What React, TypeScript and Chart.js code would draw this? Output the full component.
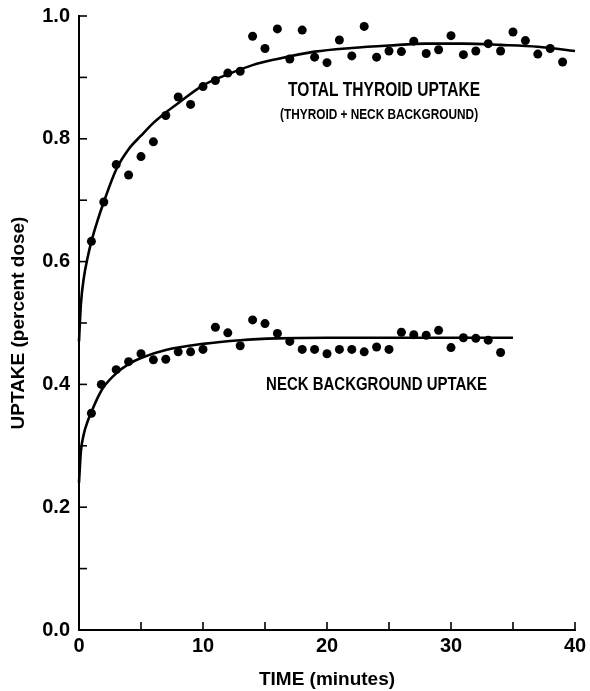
import React, { useEffect, useRef } from 'react';
import { Chart, registerables } from 'chart.js';

Chart.register(...registerables);

// ---- Data ----
const totalMinutes = [1, 2, 3, 4, 5, 6, 7, 8, 9, 10, 11, 12, 13, 14, 15, 16, 17, 18, 19, 20, 21, 22, 23, 24, 25, 26, 27, 28, 29, 30, 31, 32, 33, 34, 35, 36, 37, 38, 39];
const totalUptake = [0.633, 0.697, 0.758, 0.741, 0.771, 0.795, 0.838, 0.868, 0.856, 0.885, 0.895, 0.907, 0.910, 0.967, 0.947, 0.979, 0.930, 0.977, 0.933, 0.924, 0.961, 0.935, 0.983, 0.933, 0.943, 0.942, 0.959, 0.939, 0.945, 0.968, 0.937, 0.943, 0.955, 0.943, 0.974, 0.960, 0.938, 0.947, 0.925];

const neckMinutes = [1, 1.8, 3, 4, 5, 6, 7, 8, 9, 10, 11, 12, 13, 14, 15, 16, 17, 18, 19, 20, 21, 22, 23, 24, 25, 26, 27, 28, 29, 30, 31, 32, 33, 34];
const neckUptake = [0.353, 0.400, 0.424, 0.437, 0.450, 0.440, 0.441, 0.453, 0.453, 0.457, 0.493, 0.484, 0.463, 0.505, 0.499, 0.483, 0.470, 0.457, 0.457, 0.450, 0.457, 0.457, 0.453, 0.461, 0.457, 0.485, 0.481, 0.480, 0.488, 0.460, 0.476, 0.475, 0.472, 0.452];

// fitted curves
const totalFitMinutes = [0, 0.15, 0.4, 0.7, 1, 1.5, 2, 3, 4, 5, 6, 7, 8, 10, 12, 14, 16, 19, 22, 25, 28, 31, 34, 37, 40];
const totalFitUptake = [0.47, 0.53, 0.575, 0.607, 0.633, 0.667, 0.697, 0.750, 0.783, 0.805, 0.826, 0.843, 0.858, 0.887, 0.905, 0.920, 0.930, 0.942, 0.948, 0.952, 0.955, 0.955, 0.953, 0.950, 0.943];

const neckFitMinutes = [0, 0.15, 0.4, 0.7, 1, 1.5, 2, 3, 4, 5, 7, 10, 13, 16, 20, 25, 30, 35];
const neckFitUptake = [0.24, 0.29, 0.32, 0.34, 0.355, 0.378, 0.396, 0.418, 0.433, 0.443, 0.456, 0.466, 0.472, 0.475, 0.476, 0.476, 0.476, 0.476];

const xTickLabels = ['0', '10', '20', '30', '40'];
const yTickLabels = ['0.0', '0.2', '0.4', '0.6', '0.8', '1.0'];

const xTitle = 'TIME (minutes)';
const yTitle = 'UPTAKE (percent dose)';

const annotationTexts = ['TOTAL THYROID UPTAKE', '(THYROID + NECK BACKGROUND)', 'NECK BACKGROUND UPTAKE'];

// ---- Styles / placement of annotations (data coordinates + px sizes) ----
const annotationStyle = [
  { x: 24.6, y: 0.879, size: 21, width: 192 },
  { x: 24.2, y: 0.839, size: 14, width: 198 },
  { x: 24.0, y: 0.399, size: 19, width: 221 },
];

const toPoints = (xs: number[], ys: number[]) => xs.map((x, i) => ({ x, y: ys[i] }));

const inwardTicks = {
  id: 'inwardTicks',
  afterDraw(chart: any) {
    const { ctx, chartArea, scales } = chart;
    ctx.save();
    ctx.strokeStyle = '#000';
    ctx.lineWidth = 1.6;
    const len = 8;
    scales.x.ticks.forEach((t: any) => {
      const px = scales.x.getPixelForValue(t.value);
      ctx.beginPath();
      ctx.moveTo(px, chartArea.bottom);
      ctx.lineTo(px, chartArea.bottom - len);
      ctx.stroke();
    });
    scales.y.ticks.forEach((t: any) => {
      const py = scales.y.getPixelForValue(t.value);
      ctx.beginPath();
      ctx.moveTo(chartArea.left, py);
      ctx.lineTo(chartArea.left + len, py);
      ctx.stroke();
    });
    ctx.restore();
  },
};

const annotations = {
  id: 'annotations',
  afterDatasetsDraw(chart: any) {
    const { ctx, scales } = chart;
    ctx.save();
    ctx.fillStyle = '#000';
    ctx.textAlign = 'center';
    ctx.textBaseline = 'middle';
    annotationTexts.forEach((text, i) => {
      const st = annotationStyle[i];
      const px = scales.x.getPixelForValue(st.x);
      const py = scales.y.getPixelForValue(st.y);
      ctx.font = `bold ${st.size}px "Liberation Sans Narrow", "Liberation Sans", Arial, sans-serif`;
      const w = ctx.measureText(text).width;
      ctx.save();
      ctx.translate(px, py);
      ctx.scale(st.width / w, 1);
      ctx.fillText(text, 0, 0);
      ctx.restore();
    });
    ctx.restore();
  },
};

export default function App() {
  const ref = useRef<HTMLCanvasElement | null>(null);

  useEffect(() => {
    if (!ref.current) return;
    const tickFont = { family: '"Liberation Sans", Arial, sans-serif', size: 20, weight: 'bold' as const };
    const titleFont = { family: '"Liberation Sans", Arial, sans-serif', size: 19, weight: 'bold' as const };
    const chart = new Chart(ref.current, {
      type: 'scatter',
      data: {
        datasets: [
          {
            label: 'Total fit',
            data: toPoints(totalFitMinutes, totalFitUptake),
            showLine: true,
            borderColor: '#000',
            borderWidth: 2.6,
            pointRadius: 0,
            cubicInterpolationMode: 'monotone',
          },
          {
            label: 'Neck fit',
            data: toPoints(neckFitMinutes, neckFitUptake),
            showLine: true,
            borderColor: '#000',
            borderWidth: 2.6,
            pointRadius: 0,
            cubicInterpolationMode: 'monotone',
          },
          {
            label: 'Total thyroid uptake',
            data: toPoints(totalMinutes, totalUptake),
            showLine: false,
            pointRadius: 4.5,
            pointBackgroundColor: '#000',
            pointBorderColor: '#000',
            pointBorderWidth: 0,
          },
          {
            label: 'Neck background uptake',
            data: toPoints(neckMinutes, neckUptake),
            showLine: false,
            pointRadius: 4.5,
            pointBackgroundColor: '#000',
            pointBorderColor: '#000',
            pointBorderWidth: 0,
          },
        ],
      },
      options: {
        animation: false,
        responsive: false,
        clip: false as any,
        layout: { autoPadding: false, padding: { top: 16, right: 15, left: 0, bottom: 0 } },
        plugins: { legend: { display: false }, tooltip: { enabled: false }, title: { display: false } },
        scales: {
          x: {
            type: 'linear',
            min: 0,
            max: 40,
            grid: { display: false, drawTicks: false },
            border: { display: true, color: '#000', width: 2 },
            ticks: {
              stepSize: 5,
              color: '#000',
              font: tickFont,
              padding: 4,
              maxRotation: 0,
              autoSkip: false,
              callback: (v: any) => {
                const s = String(v);
                return xTickLabels.includes(s) ? s : '';
              },
            },
            title: { display: true, text: xTitle, color: '#000', font: titleFont, padding: { top: 0, bottom: 0 } },
            afterFit: (s: any) => {
              s.height = 61;
              s.paddingLeft = 0;
              s.paddingRight = 0;
            },
          },
          y: {
            type: 'linear',
            min: 0,
            max: 1,
            grid: { display: false, drawTicks: false },
            border: { display: true, color: '#000', width: 2 },
            ticks: {
              stepSize: 0.1,
              color: '#000',
              font: tickFont,
              padding: 9,
              autoSkip: false,
              callback: (v: any) => {
                const s = Number(v).toFixed(1);
                return yTickLabels.includes(s) ? s : '';
              },
            },
            title: { display: true, text: yTitle, color: '#000', font: titleFont, padding: { top: 7, bottom: 0 } },
            afterFit: (s: any) => {
              s.width = 79;
              s.paddingTop = 0;
              s.paddingBottom = 0;
            },
          },
        },
      },
      plugins: [inwardTicks, annotations],
    });
    return () => chart.destroy();
  }, []);

  return (
    <div style={{ position: 'absolute', left: 0, top: 0, width: 590, height: 691, background: '#fff' }}>
      <canvas ref={ref} width={590} height={691} style={{ display: 'block' }} />
    </div>
  );
}
